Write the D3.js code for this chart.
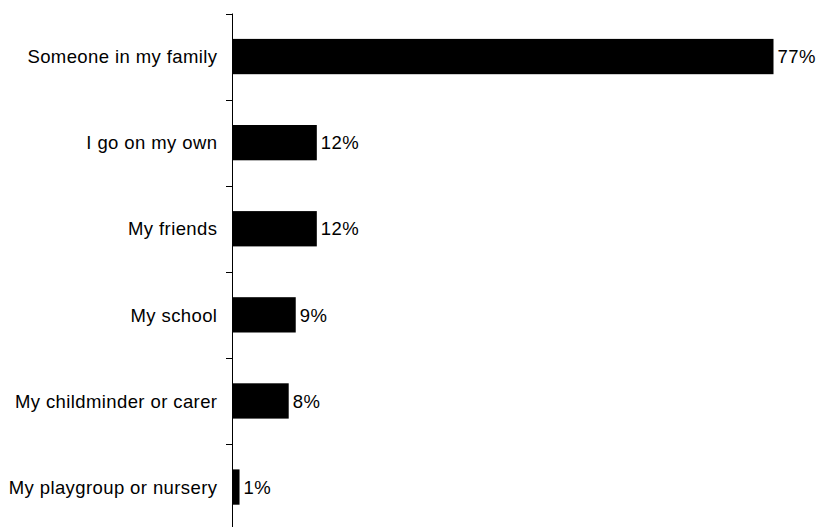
<!DOCTYPE html>
<html>
<head>
<meta charset="utf-8">
<script src="https://cdn.jsdelivr.net/npm/d3@7"></script>
<style>
  html, body { margin: 0; padding: 0; background: #fff; }
  svg { display: block; font-family: "Liberation Sans", Arial, sans-serif; }
</style>
</head>
<body>
<svg id="chart" width="819" height="527"></svg>
<script>
// Who takes you: share of responses per category
const categories = [
  "Someone in my family",
  "I go on my own",
  "My friends",
  "My school",
  "My childminder or carer",
  "My playgroup or nursery"
];
const values = [77, 12, 12, 9, 8, 1];

const svg = d3.select("#chart");
const axisX = 232, plotTop = 13.5, plotBottom = 530.1;
const pxPerPct = (773 - axisX) / 77;

const x = d3.scaleLinear().domain([0, 100]).range([axisX, axisX + 100 * pxPerPct]);
const y = d3.scaleBand().domain(categories).range([plotTop, plotBottom]).paddingInner(0.59).paddingOuter(0.295);

// category axis with tick marks between bands
const step = y.step();
const tickYs = d3.range(categories.length + 1).map(i => plotTop + i * step);
svg.append("line")
  .attr("x1", axisX + 0.5).attr("x2", axisX + 0.5)
  .attr("y1", plotTop).attr("y2", plotBottom)
  .attr("stroke", "#000").attr("stroke-width", 1);
svg.selectAll("line.tick").data(tickYs).join("line")
  .attr("class", "tick")
  .attr("x1", axisX - 6).attr("x2", axisX + 0.5)
  .attr("y1", d => Math.round(d) + 0.5).attr("y2", d => Math.round(d) + 0.5)
  .attr("stroke", "#000").attr("stroke-width", 1);

// bars
svg.selectAll("rect.bar").data(categories).join("rect")
  .attr("class", "bar")
  .attr("x", x(0) + 0.5)
  .attr("y", d => y(d))
  .attr("width", (d, i) => x(values[i]) - x(0))
  .attr("height", y.bandwidth())
  .attr("fill", "#000");

// category labels
svg.selectAll("text.cat").data(categories).join("text")
  .attr("class", "cat")
  .attr("x", axisX - 14.6)
  .attr("y", d => y(d) + y.bandwidth() / 2)
  .attr("dy", "0.36em")
  .attr("text-anchor", "end")
  .attr("font-size", 18.5)
  .attr("letter-spacing", 0.4)
  .attr("fill", "#000")
  .text(d => d);

// value labels
svg.selectAll("text.val").data(categories).join("text")
  .attr("class", "val")
  .attr("x", (d, i) => x(values[i]) + 4.5)
  .attr("y", d => y(d) + y.bandwidth() / 2)
  .attr("dy", "0.36em")
  .attr("font-size", 18.5)
  .attr("letter-spacing", 0.4)
  .attr("fill", "#000")
  .text((d, i) => values[i] + "%");
</script>
</body>
</html>
